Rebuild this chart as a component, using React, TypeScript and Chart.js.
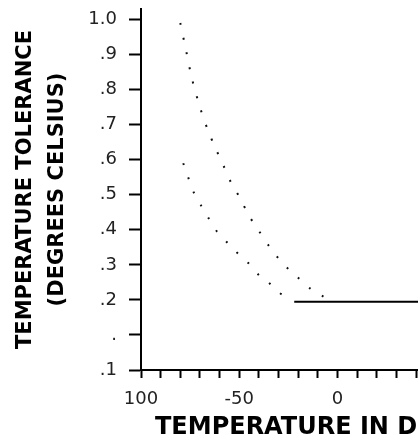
import React, { useEffect, useRef } from "react";
import { Chart, registerables } from "chart.js";

Chart.register(...registerables);

// Upper dotted curve (temperature °C, tolerance °C)
const upperX = [-80, -77, -74, -70, -66, -62, -58, -54, -50, -45, -40, -35, -30, -25, -20, -14, -7];
const upperY = [0.99, 0.91, 0.83, 0.75, 0.685, 0.632, 0.583, 0.533, 0.495, 0.44, 0.397, 0.355, 0.318, 0.288, 0.263, 0.233, 0.209];

// Lower dotted curve
const lowerX = [-78.5, -76, -73, -69.5, -66, -62, -56.5, -51.5, -45.5, -40, -35, -29.5, -23.5];
const lowerY = [0.59, 0.55, 0.505, 0.47, 0.437, 0.4, 0.366, 0.337, 0.306, 0.271, 0.249, 0.22, 0.2];

// Flat solid segment
const flatX = [-22, 41];
const flatY = [0.195, 0.195];

// Axis ticks and labels
const yTickValues = [0, 0.1, 0.2, 0.3, 0.4, 0.5, 0.6, 0.7, 0.8, 0.9, 1.0];
const yTickLabels = [".1", ".", ".2", ".3", ".4", ".5", ".6", ".7", ".8", ".9", "1.0"];
const xTickValues = [-100, -90, -80, -70, -60, -50, -40, -30, -20, -10, 0, 10, 20, 30, 40];
const xTickLabels = ["100", "", "", "", "", "-50", "", "", "", "", "0", "", "", "", ""];

const yTitle = ["TEMPERATURE TOLERANCE", "(DEGREES CELSIUS)"];
const xTitle = "TEMPERATURE IN DEGREES CELSIUS";

const toPoints = (xs: number[], ys: number[]) => xs.map((x, i) => ({ x, y: ys[i] }));

export default function App() {
  const ref = useRef<HTMLCanvasElement | null>(null);

  useEffect(() => {
    document.body.style.margin = "0";
    const canvas = ref.current;
    if (!canvas) return;

    const xTitlePlugin = {
      id: "xTitlePlugin",
      afterDraw(chart: any) {
        const ctx = chart.ctx;
        ctx.save();
        ctx.font = "bold 24px 'DejaVu Sans'";
        ctx.fillStyle = "#000";
        ctx.textAlign = "left";
        ctx.textBaseline = "middle";
        ctx.fillText(xTitle, 155, 428);
        ctx.restore();
      },
    };

    const chart = new Chart(canvas, {
      type: "line",
      data: {
        datasets: [
          {
            data: toPoints(upperX, upperY),
            borderColor: "#111",
            borderWidth: 2,
            borderDash: [2, 13],
            pointRadius: 0,
            tension: 0.3,
            fill: false,
          },
          {
            data: toPoints(lowerX, lowerY),
            borderColor: "#111",
            borderWidth: 2,
            borderDash: [2, 13],
            pointRadius: 0,
            tension: 0.3,
            fill: false,
          },
          {
            data: toPoints(flatX, flatY),
            borderColor: "#000",
            borderWidth: 2,
            pointRadius: 0,
            fill: false,
          },
        ],
      },
      options: {
        responsive: false,
        maintainAspectRatio: false,
        devicePixelRatio: 1,
        animation: false,
        layout: { padding: { top: 9, right: 0, left: 0, bottom: 0 } },
        plugins: { legend: { display: false }, tooltip: { enabled: false } },
        scales: {
          x: {
            type: "linear",
            min: -100,
            max: 41,
            afterFit: (s: any) => {
              s.height = 69;
              s.paddingLeft = 0;
              s.paddingRight = 0;
            },
            afterBuildTicks: (s: any) => {
              s.ticks = xTickValues.map((v) => ({ value: v }));
            },
            border: { display: true, color: "#000", width: 2 },
            grid: {
              drawOnChartArea: false,
              drawTicks: true,
              tickLength: 8,
              tickWidth: 2,
              tickColor: "#000",
            },
            ticks: {
              autoSkip: false,
              maxRotation: 0,
              padding: 11,
              color: "#222",
              font: { family: "'DejaVu Sans'", size: 18 },
              callback: (v: any) => {
                const i = xTickValues.indexOf(Number(v));
                return i >= 0 ? xTickLabels[i] : "";
              },
            },
          },
          y: {
            type: "linear",
            min: 0,
            max: 1.03,
            afterFit: (s: any) => {
              s.width = 141;
              s.paddingTop = 0;
              s.paddingBottom = 0;
            },
            afterBuildTicks: (s: any) => {
              s.ticks = yTickValues.map((v) => ({ value: v }));
            },
            border: { display: true, color: "#000", width: 2 },
            grid: {
              drawOnChartArea: false,
              drawTicks: true,
              tickLength: 12,
              tickWidth: 2,
              tickColor: "#000",
            },
            ticks: {
              autoSkip: false,
              padding: 12,
              color: "#222",
              font: { family: "'DejaVu Sans'", size: 18 },
              callback: (v: any) => {
                const i = yTickValues.findIndex((t) => Math.abs(t - Number(v)) < 1e-6);
                return i >= 0 ? yTickLabels[i] : "";
              },
            },
            title: {
              display: true,
              text: yTitle,
              color: "#000",
              font: { family: "'DejaVu Sans'", size: 21, weight: "bold", lineHeight: 1.55 },
              padding: { top: 9, bottom: 0 },
            },
          },
        },
      },
      plugins: [xTitlePlugin],
    });

    return () => chart.destroy();
  }, []);

  return (
    <div style={{ width: 418, height: 439 }}>
      <canvas ref={ref} width={418} height={439} style={{ display: "block" }} />
    </div>
  );
}
